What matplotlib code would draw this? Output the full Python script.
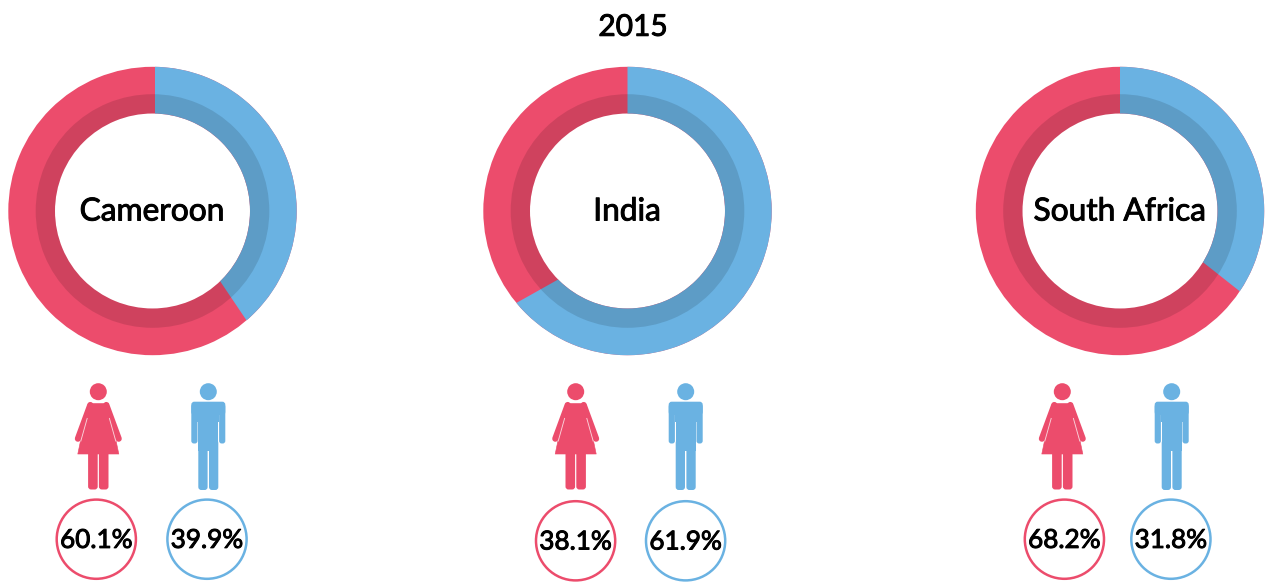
import numpy as np
import matplotlib
matplotlib.use("Agg")
import matplotlib.pyplot as plt
import matplotlib.patheffects as pe
from matplotlib.patches import Wedge, Circle, FancyBboxPatch, Polygon, Rectangle

# ---- data ----
title = "2015"
countries = ["Cameroon", "India", "South Africa"]
female_pct = [60.1, 38.1, 68.2]
male_pct = [39.9, 61.9, 31.8]
# share of the ring that is blue, as drawn in the picture (outer / inner edge)
ring_blue_outer = [38.7, 64.0, 34.4]
ring_blue_inner = [37.8, 62.6, 33.8]

# ---- layout (pixels) ----
W, H = 1266, 583
ring_cx = [152.5, 627.5, 1120.0]
ring_cy = 211.0
seam_off = [2.5, 0.0, 0.0]
label_x = [152.0, 627.0, 1119.7]
R_OUT, R_MID, R_IN = 144.2, 116.8, 97.5
woman_x = [98.3, 575.7, 1062.3]
man_x = [208.3, 685.7, 1171.7]
pct_f_x = [96.3, 575.6, 1064.4]
pct_m_x = [207.0, 685.6, 1170.9]
pct_cy = [539.2, 540.8, 539.2]

PINK = "#EC4C6C"
BLUE = "#6AB2E2"
FONT = "Lato"
px = 0.72  # one pixel in points at dpi 100

fig = plt.figure(figsize=(W / 100, H / 100), dpi=100, facecolor="white")
ax = fig.add_axes([0, 0, 1, 1])
ax.set_xlim(0, W)
ax.set_ylim(H, 0)
ax.axis("off")


def heavy(width=0.7):
    return [pe.withStroke(linewidth=width, foreground="black")]


def arc(cx, cy, r, a0, a1, n=180):
    t = np.radians(np.linspace(a0, a1, n))
    return np.column_stack([cx + r * np.sin(t), cy - r * np.cos(t)])


def ring(i):
    cx = ring_cx[i]
    ax.add_patch(Wedge((cx, ring_cy), R_OUT, 0, 360, width=R_OUT - R_IN, fc=PINK, ec="none", zorder=1))
    s_out = np.degrees(np.arcsin(seam_off[i] / R_OUT))
    s_in = np.degrees(np.arcsin(seam_off[i] / R_IN))
    outer = arc(cx, ring_cy, R_OUT, s_out, ring_blue_outer[i] * 3.6)
    inner = arc(cx, ring_cy, R_IN, ring_blue_inner[i] * 3.6, s_in)
    ax.add_patch(Polygon(np.vstack([outer, inner]), closed=True, fc=BLUE, ec="none", zorder=2))
    ax.add_patch(Wedge((cx, ring_cy), R_MID, 0, 360, width=R_MID - R_IN, fc="black", alpha=0.12, ec="none", zorder=3))


def rrect(x0, y0, x1, y1, r, color):
    ax.add_patch(FancyBboxPatch((x0 + r, y0 + r), x1 - x0 - 2 * r, y1 - y0 - 2 * r,
                                boxstyle=f"round,pad={r},rounding_size={r}",
                                fc=color, ec="none", zorder=4))


def man(x, color):
    ax.add_patch(Circle((x, 391.7), 8.5, fc=color, ec="none", zorder=4))
    rrect(x - 17, 401.7, x + 17, 415, 3, color)
    rrect(x - 17, 404, x - 10.8, 443.5, 2.6, color)
    rrect(x + 10.8, 404, x + 17, 443.5, 2.6, color)
    ax.add_patch(Rectangle((x - 11, 408), 22, 14, fc=color, ec="none", zorder=4))
    ax.add_patch(Rectangle((x - 10, 412), 20, 39, fc=color, ec="none", zorder=4))
    rrect(x - 10, 440, x - 0.7, 490, 3, color)
    rrect(x + 0.7, 440, x + 10, 490, 3, color)


def woman(x, color):
    ax.add_patch(Circle((x, 391.7), 8.5, fc=color, ec="none", zorder=4))
    for s in (-1, 1):
        ax.plot([x + s * 8, x + s * 20.4], [405, 438.7], color=color, lw=6.2 * px,
                solid_capstyle="round", zorder=4)
    pts = [(x - 10, 403.5), (x + 10, 403.5), (x + 20.5, 454.0), (x - 20.5, 454.0)]
    ax.add_patch(Polygon(pts, closed=True, fc=color, ec=color, lw=0.6 * px, joinstyle="round", zorder=4))
    for s in (-1, 1):
        ax.plot([x + s * 11, x + s * 17.6], [418, 441.5], color="white", lw=0.9 * px, alpha=0.75,
                solid_capstyle="butt", zorder=5)
    rrect(x - 10.2, 448, x - 0.6, 489.5, 3, color)
    rrect(x + 0.6, 448, x + 10.2, 489.5, 3, color)


ax.text(633, 26.8, title, ha="center", va="center", family=FONT, fontsize=21.5,
        color="black", path_effects=heavy(), zorder=6)

for i, name in enumerate(countries):
    ring(i)
    ax.text(label_x[i], 211.5, name, ha="center", va="center", family=FONT, fontsize=22.8,
            color="black", path_effects=heavy(), zorder=6)
    woman(woman_x[i], PINK)
    man(man_x[i], BLUE)
    for xc, val, col in ((pct_f_x[i], female_pct[i], PINK), (pct_m_x[i], male_pct[i], BLUE)):
        ax.add_patch(Circle((xc, pct_cy[i]), 39.6, fc="white", ec=col, lw=2.5 * px, zorder=4))
        ax.text(xc, pct_cy[i] + 1.2, f"{val:.1f}%", ha="center", va="center", family=FONT,
                fontsize=18.8, color="black", path_effects=heavy(), zorder=6)

fig.savefig("out.png", dpi=100, facecolor="white")
